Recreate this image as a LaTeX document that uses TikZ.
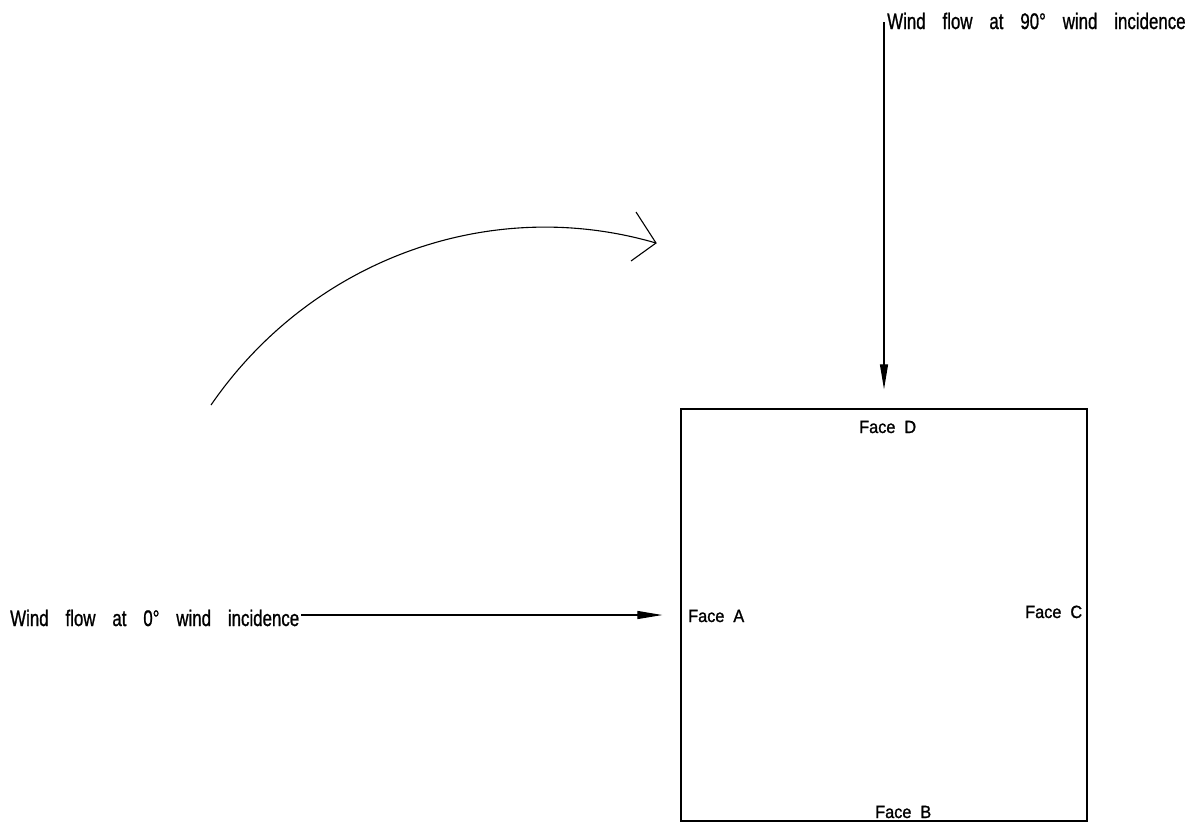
\documentclass[tikz,border=0pt]{standalone}
\usepackage{fontspec}
\usepackage{graphicx}
\usetikzlibrary{arrows.meta}
\newfontfamily\cadfont{Liberation Sans}[FakeBold=1.2]
% narrow CAD-like lettering with wide word gaps
\newcommand\windtext[1]{\scalebox{0.75}[1]{\fontsize{22.5}{24}\cadfont\spaceskip=1.0em\relax #1}}
\newcommand\facetext[1]{\scalebox{0.92}[1]{\fontsize{17.7}{19}\cadfont\spaceskip=0.55em\relax #1}}
\tikzset{
  lbl/.style={inner sep=0pt, anchor=base west},
  flowarrow/.style={line width=1.2pt, -{Triangle[length=25pt,width=8pt]}},
  building/.style={draw, line width=1.3pt, minimum width=406pt, minimum height=412pt, inner sep=0pt},
  turn/.style={line width=1.1pt}
}
\begin{document}
\begin{tikzpicture}[x=1pt,y=-1pt]
\useasboundingbox (0,0) rectangle (1198,823);

% building outline
\node[building] (box) at (884,615) {};

% face labels
\node[lbl] (faceD) at (859,433) {\facetext{Face D}};
\node[lbl] (faceA) at (688,622) {\facetext{Face A}};
\node[lbl] (faceC) at (1025,618) {\facetext{Face C}};
\node[lbl] (faceB) at (875,818) {\facetext{Face B}};

% wind directions
\node[lbl] (wind90) at (887,29) {\windtext{Wind flow at 90° wind incidence}};
\node[lbl] (wind0) at (10,626) {\windtext{Wind flow at 0° wind incidence}};
\coordinate (v0) at (884,22);

\draw[flowarrow, shorten >=19pt] (v0) -- (box.north);
\draw[flowarrow, shorten >=18pt] ([xshift=2pt]wind0.east |- box.west) -- (box.west);

% rotation of the incidence angle
\coordinate (arcstart) at (211,405);
\coordinate (arcend) at (656,243);
\draw[turn] (arcstart) .. controls (310,261) and (488,194) .. (arcend);
\draw[turn] (636,212) -- (arcend) -- (631,261);
\end{tikzpicture}
\end{document}
